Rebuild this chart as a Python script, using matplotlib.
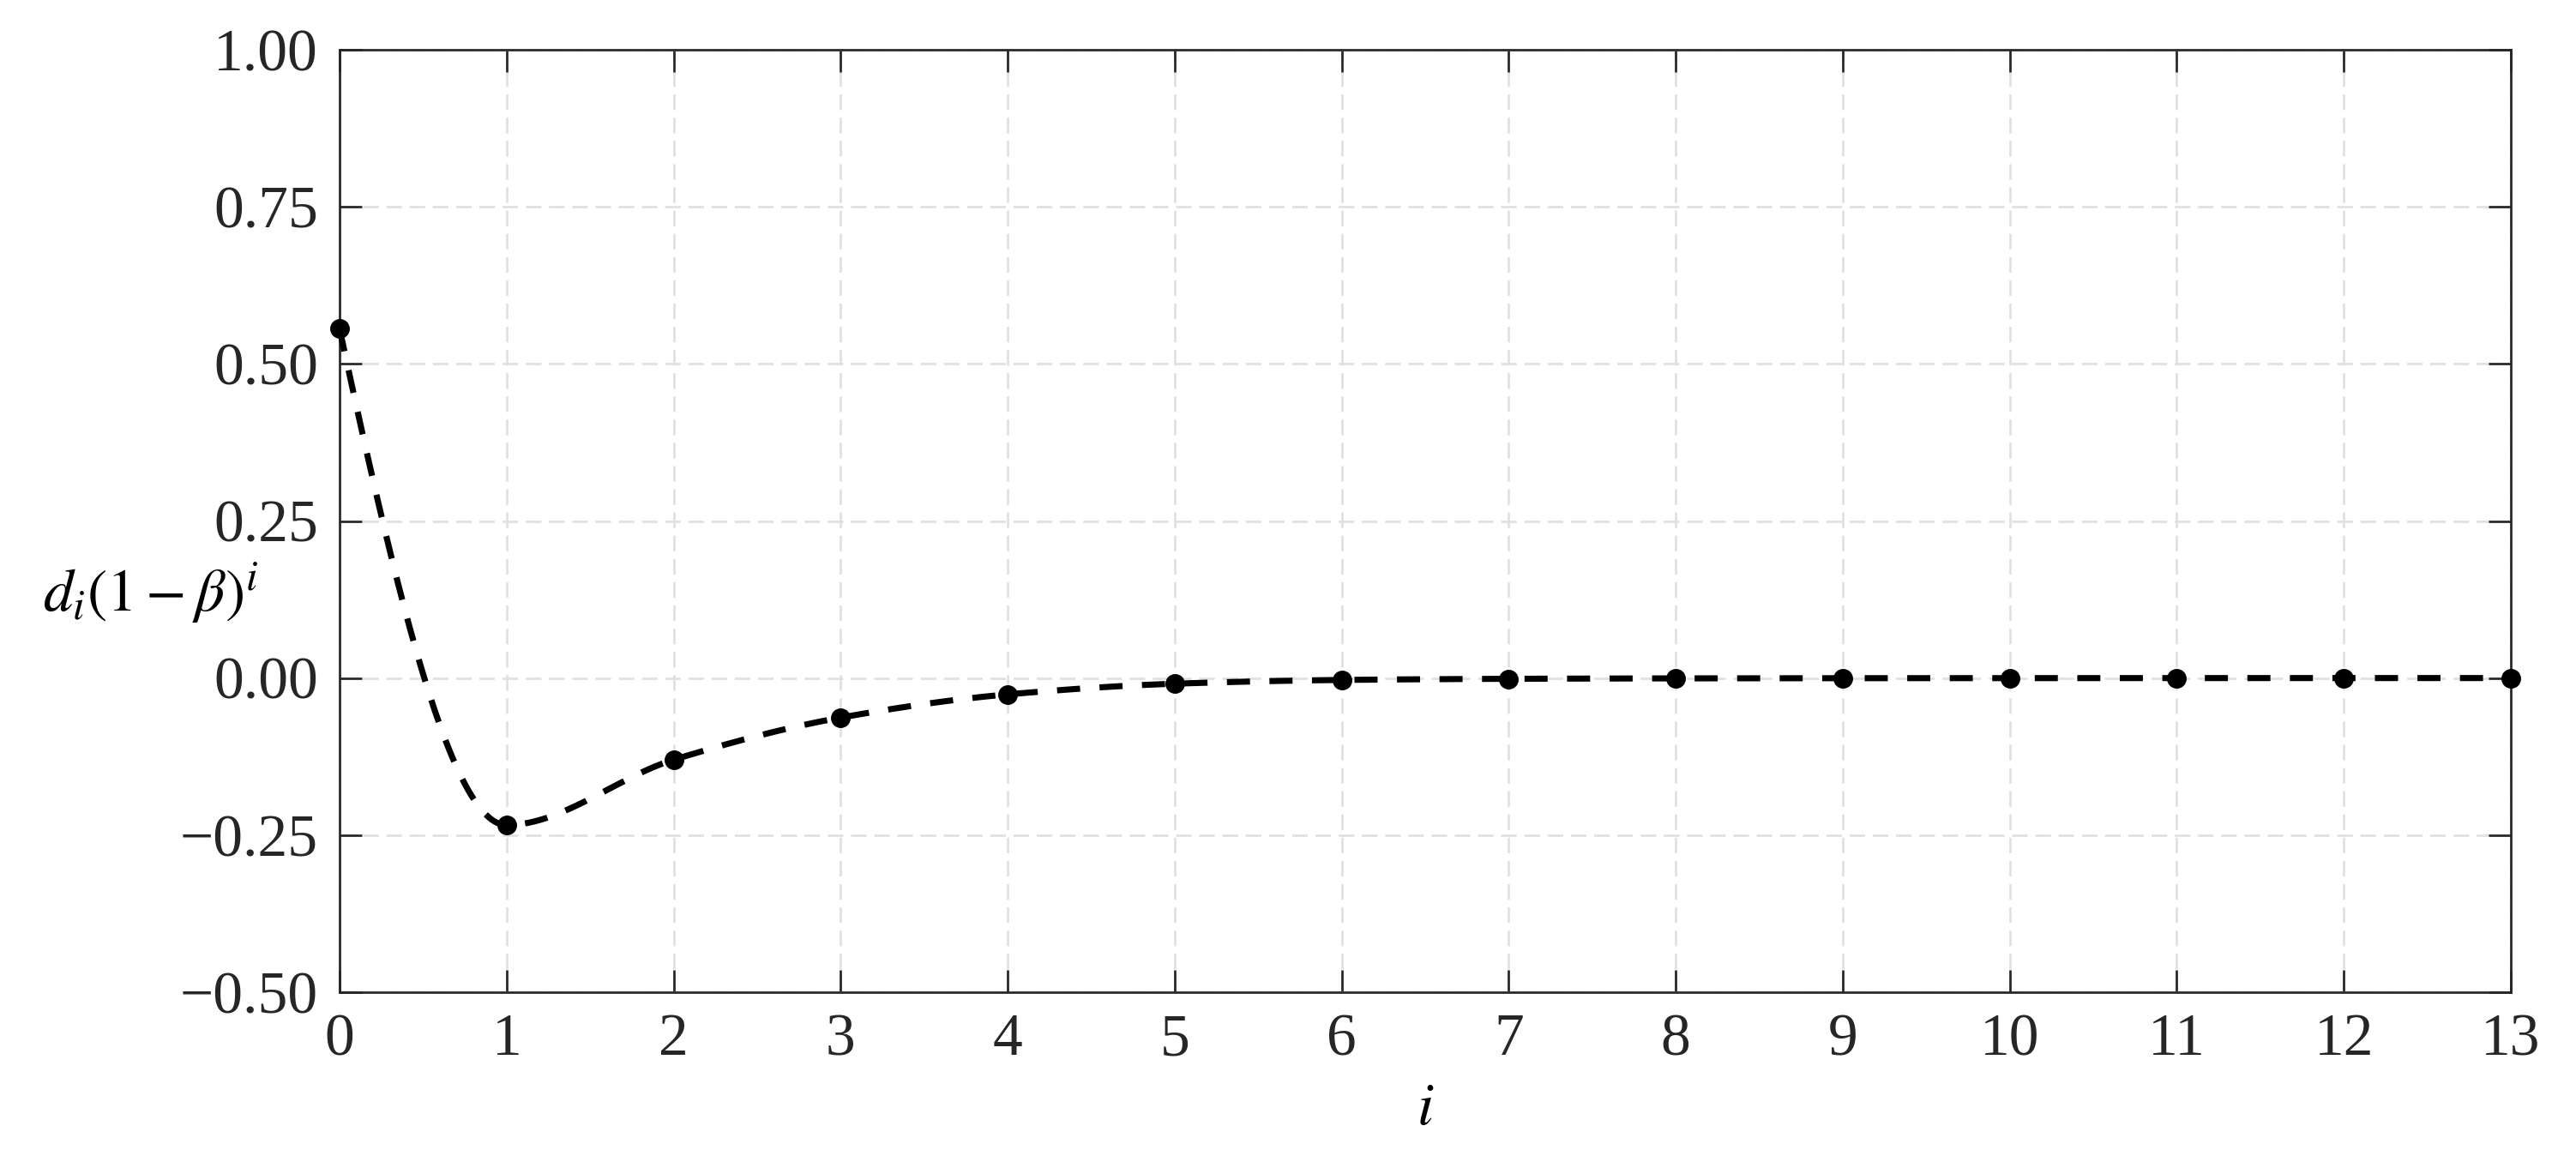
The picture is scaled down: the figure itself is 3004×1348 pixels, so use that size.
import numpy as np
import matplotlib
matplotlib.use("Agg")
import matplotlib.pyplot as plt

# ---- data ----
i_vals = [0, 1, 2, 3, 4, 5, 6, 7, 8, 9, 10, 11, 12, 13]
d_vals = [0.556, -0.234, -0.130, -0.063, -0.026, -0.009, -0.003,
          -0.0012, -0.0005, -0.0002, -0.0001, 0.0, 0.0, 0.0]
x_ticks = list(range(0, 14))
y_ticks = [-0.50, -0.25, 0.00, 0.25, 0.50, 0.75, 1.00]
x_label = r'$i$'
y_label = r'$d_i(1-\beta)^i$'


def pchip(x, y, xs):
    """Shape-preserving piecewise cubic Hermite interpolation (Fritsch-Carlson)."""
    x = np.asarray(x, float)
    y = np.asarray(y, float)
    n = len(x)
    h = np.diff(x)
    dl = np.diff(y) / h
    d = np.zeros(n)
    for k in range(1, n - 1):
        if dl[k - 1] * dl[k] > 0:
            w1 = 2 * h[k] + h[k - 1]
            w2 = h[k] + 2 * h[k - 1]
            d[k] = (w1 + w2) / (w1 / dl[k - 1] + w2 / dl[k])

    def endslope(h0, h1, d0, d1):
        m = ((2 * h0 + h1) * d0 - h0 * d1) / (h0 + h1)
        if np.sign(m) != np.sign(d0):
            m = 0.0
        elif np.sign(d0) != np.sign(d1) and abs(m) > abs(3 * d0):
            m = 3 * d0
        return m

    d[0] = endslope(h[0], h[1], dl[0], dl[1])
    d[-1] = endslope(h[-1], h[-2], dl[-1], dl[-2])
    idx = np.clip(np.searchsorted(x, xs, side='right') - 1, 0, n - 2)
    hh = h[idx]
    t = (xs - x[idx]) / hh
    h00 = 2 * t ** 3 - 3 * t ** 2 + 1
    h10 = t ** 3 - 2 * t ** 2 + t
    h01 = -2 * t ** 3 + 3 * t ** 2
    h11 = t ** 3 - t ** 2
    return (h00 * y[idx] + h10 * hh * d[idx] + h01 * y[idx + 1]
            + h11 * hh * d[idx + 1])


plt.rcParams['font.family'] = ['Liberation Serif', 'DejaVu Serif']
plt.rcParams['mathtext.fontset'] = 'stix'

W, H, DPI = 3004, 1348, 300
fig = plt.figure(figsize=(W / DPI, H / DPI), dpi=DPI)
L, R, T, B = 396, 2928, 58, 1157
ax = fig.add_axes([L / W, 1 - B / H, (R - L) / W, (B - T) / H])

xs = np.linspace(i_vals[0], i_vals[-1], 1300)
ys = pchip(i_vals, d_vals, xs)
ax.plot(xs, ys, color='black', lw=1.7, linestyle=(0, (3.8, 3.2)),
        dash_capstyle='butt', zorder=3, clip_on=False)
ax.plot(i_vals, d_vals, linestyle='none', marker='o', markersize=4.5,
        color='black', zorder=4, clip_on=False)

ax.set_xlim(0, 13)
ax.set_ylim(-0.5, 1.0)
ax.set_xticks(x_ticks)
ax.set_yticks(y_ticks)
ax.set_yticklabels([f"{v:.2f}".replace('-', '\u2212') for v in y_ticks])

ax.grid(True, color='#e0e0e0', lw=0.65, linestyle=(0, (6.7, 3.3)))
ax.set_axisbelow(True)

for s in ax.spines.values():
    s.set_color('#262626')
    s.set_linewidth(0.65)

ax.tick_params(axis='both', which='both', direction='in', length=6.2,
               width=0.65, color='#262626', labelcolor='#262626',
               labelsize=16.7, top=True, right=True, pad=6)

ax.set_xlabel(x_label, fontsize=16.7, labelpad=4, color='black')
ax.set_ylabel(y_label, fontsize=16.7, rotation=0, ha='left', va='center',
              color='black')
ax.yaxis.set_label_coords((50 - L) / (R - L), (B - 692) / (B - T))

fig.savefig('out.png', dpi=DPI, facecolor='white')
